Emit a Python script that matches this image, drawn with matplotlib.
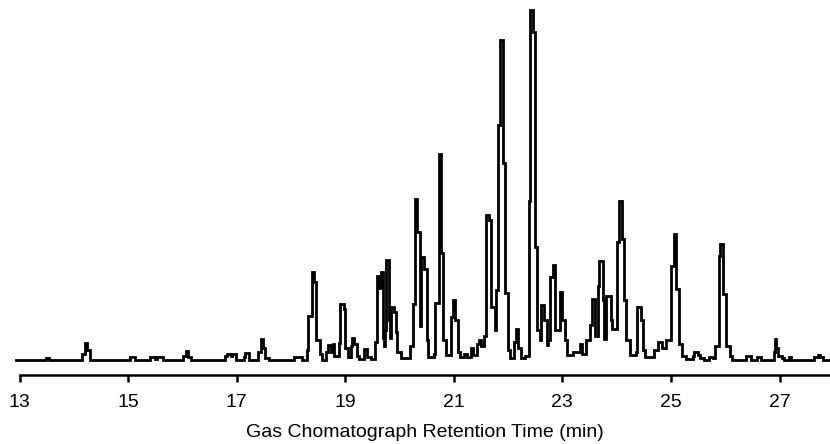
import matplotlib
matplotlib.use("Agg")
import matplotlib.pyplot as plt

# ---- data (step trace, detector response in arbitrary units) ----
rt_min = [
    12.94, 13.48, 13.55, 14.16, 14.20, 14.25, 14.29, 15.04, 15.12, 15.41,
    15.49, 15.54, 15.65, 16.02, 16.06, 16.11, 16.15, 16.78, 16.83, 16.89,
    16.92, 16.98, 17.14, 17.16, 17.22, 17.40, 17.44, 17.49, 17.53, 17.59,
    18.05, 18.21, 18.29, 18.32, 18.38, 18.43, 18.47, 18.53, 18.58, 18.64,
    18.69, 18.73, 18.77, 18.80, 18.88, 18.91, 18.97, 19.00, 19.06, 19.10,
    19.13, 19.17, 19.21, 19.26, 19.35, 19.41, 19.47, 19.54, 19.58, 19.59,
    19.63, 19.65, 19.69, 19.72, 19.74, 19.76, 19.80, 19.83, 19.85, 19.89,
    19.93, 19.96, 20.02, 20.20, 20.24, 20.28, 20.33, 20.37, 20.40, 20.46,
    20.50, 20.53, 20.63, 20.66, 20.72, 20.77, 20.81, 20.85, 20.94, 20.98,
    21.03, 21.07, 21.12, 21.18, 21.25, 21.31, 21.36, 21.42, 21.47, 21.51,
    21.55, 21.60, 21.64, 21.69, 21.75, 21.77, 21.82, 21.86, 21.90, 21.95,
    21.99, 22.04, 22.10, 22.14, 22.19, 22.23, 22.32, 22.38, 22.41, 22.45,
    22.49, 22.54, 22.58, 22.60, 22.67, 22.71, 22.74, 22.78, 22.82, 22.87,
    22.96, 23.00, 23.04, 23.09, 23.20, 23.32, 23.37, 23.43, 23.50, 23.54,
    23.61, 23.65, 23.68, 23.74, 23.76, 23.81, 23.89, 23.92, 24.00, 24.05,
    24.09, 24.13, 24.18, 24.24, 24.35, 24.38, 24.44, 24.48, 24.53, 24.68,
    24.76, 24.84, 24.90, 25.01, 25.06, 25.10, 25.15, 25.21, 25.27, 25.40,
    25.43, 25.49, 25.54, 25.60, 25.71, 25.77, 25.82, 25.88, 25.91, 25.96,
    26.02, 26.08, 26.13, 26.39, 26.47, 26.58, 26.65, 26.89, 26.91, 26.94,
    26.98, 27.04, 27.09, 27.17, 27.22, 27.64, 27.70, 27.75, 27.81, 27.95,
]
response = [
    0, 2, 0, 6, 17, 10, 0, 3, 0, 3,
    1, 3, 0, 4, 9, 3, 0, 4, 6, 4,
    6, 0, 3, 7, 0, 8, 21, 12, 2, 0,
    3, 0, 10, 44, 88, 78, 20, 6, 0, 8,
    15, 8, 16, 4, 17, 56, 51, 12, 3, 14,
    22, 16, 4, 1, 11, 3, 1, 18, 40, 84,
    72, 88, 22, 14, 30, 100, 40, 22, 53, 48,
    28, 8, 2, 14, 56, 161, 128, 34, 103, 91,
    20, 3, 6, 57, 207, 107, 20, 5, 43, 60,
    40, 8, 3, 6, 3, 12, 5, 16, 20, 14,
    24, 145, 140, 53, 30, 70, 236, 321, 198, 67,
    10, 2, 18, 31, 12, 2, 4, 159, 351, 329,
    113, 30, 20, 55, 40, 15, 20, 83, 95, 30,
    68, 40, 20, 5, 8, 16, 6, 20, 35, 61,
    24, 74, 99, 60, 21, 64, 40, 31, 118, 159,
    121, 60, 20, 5, 8, 53, 40, 10, 3, 10,
    18, 12, 20, 94, 126, 71, 16, 4, 1, 4,
    8, 5, 2, 0, 3, 2, 14, 104, 116, 66,
    14, 4, 0, 4, 0, 3, 0, 8, 21, 12,
    4, 2, 0, 3, 0, 3, 5, 3, 0, 0,
]
tick_minutes = [13, 15, 17, 19, 21, 23, 25, 27]

plt.rcParams['font.family'] = ['Liberation Sans', 'DejaVu Sans']

fig = plt.figure(figsize=(8.3, 4.44), dpi=100)
ax = fig.add_axes([0.0235, 0.1554, 0.9765, 0.8446])

ax.plot(rt_min, response, drawstyle='steps-post', color='black', lw=2.0,
        solid_joinstyle='miter', clip_on=False)

ax.set_xlim(13, 27.93)
ax.set_ylim(-15, 361)

# only the time axis is shown
for side in ['left', 'right', 'top']:
    ax.spines[side].set_visible(False)
ax.spines['bottom'].set_linewidth(1.8)
ax.set_yticks([])
ax.set_xticks(tick_minutes)
ax.tick_params(axis='x', direction='out', length=5, width=1.8, pad=9, labelsize=14)
ax.set_xlabel('Gas Chomatograph Retention Time (min)', fontsize=14, labelpad=9)

fig.savefig('out.png', dpi=100)
